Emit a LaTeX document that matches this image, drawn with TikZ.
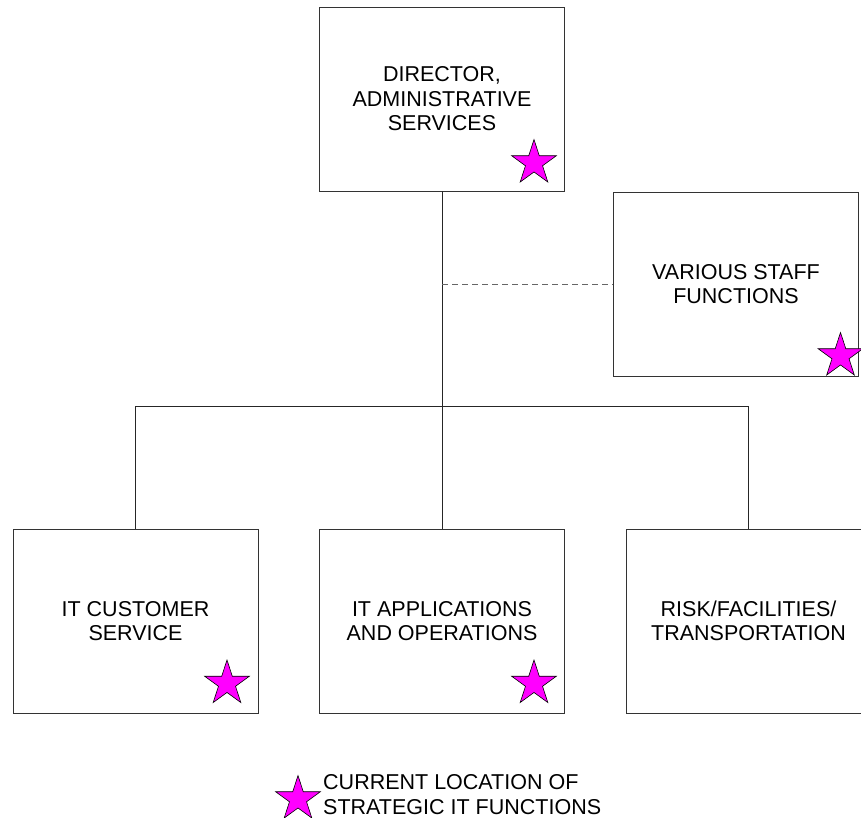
\documentclass[tikz,border=0pt]{standalone}
\usepackage{fontspec}
\setmainfont{Liberation Sans}
\usetikzlibrary{shapes.geometric}
\definecolor{starpink}{RGB}{255,0,255}

\begin{document}
\begin{tikzpicture}[x=1pt,y=-1pt,
  unit/.style={draw=black!80, line width=0.9pt, minimum width=245pt,
    minimum height=184pt, inner sep=0pt, align=center,
    font=\fontsize{21.5}{24.5}\selectfont},
  markstar/.style={star, star points=5, star point ratio=2.618,
    minimum size=47pt, inner sep=0pt, fill=starpink, draw=black,
    line width=0.6pt},
  link/.style={draw=black!85, line width=0.9pt},
  staffline/.style={draw=black!60, line width=0.9pt,
    dash pattern=on 6pt off 4pt}]
\useasboundingbox (0,0) rectangle (861,818);
\clip (0,0) rectangle (861,818);

% organisational units
\node[unit] (dir)   at (442,99)    {DIRECTOR,\\ADMINISTRATIVE\\SERVICES};
\node[unit] (staff) at (736,284)   {VARIOUS STAFF\\FUNCTIONS};
\node[unit] (cust)  at (135.5,621) {IT CUSTOMER\\SERVICE};
\node[unit] (apps)  at (442,621)   {IT APPLICATIONS\\AND OPERATIONS};
\node[unit] (risk)  at (748.5,621) {RISK/FACILITIES/\\TRANSPORTATION};

% reporting lines
\coordinate (bus) at (442,406);
\draw[link] (dir.south) -- (apps.north);
\draw[link] (cust.north) -- (cust.north |- bus) -- (risk.north |- bus) -- (risk.north);
\draw[staffline] (dir.south |- staff.west) -- (staff.west);

% strategic IT markers
\node[markstar] (s1) at (534,163)   {};
\node[markstar] (s2) at (840.5,356) {};
\node[markstar] (s3) at (227,683.5) {};
\node[markstar] (s4) at (534,683.5) {};

% legend
\node[markstar] (key) at (298,799) {};
\node[anchor=west, inner sep=0pt, align=left,
  font=\fontsize{21.5}{24.5}\selectfont] (keytext) at (323,794.5)
  {CURRENT LOCATION OF\\STRATEGIC IT FUNCTIONS};
\end{tikzpicture}
\end{document}
